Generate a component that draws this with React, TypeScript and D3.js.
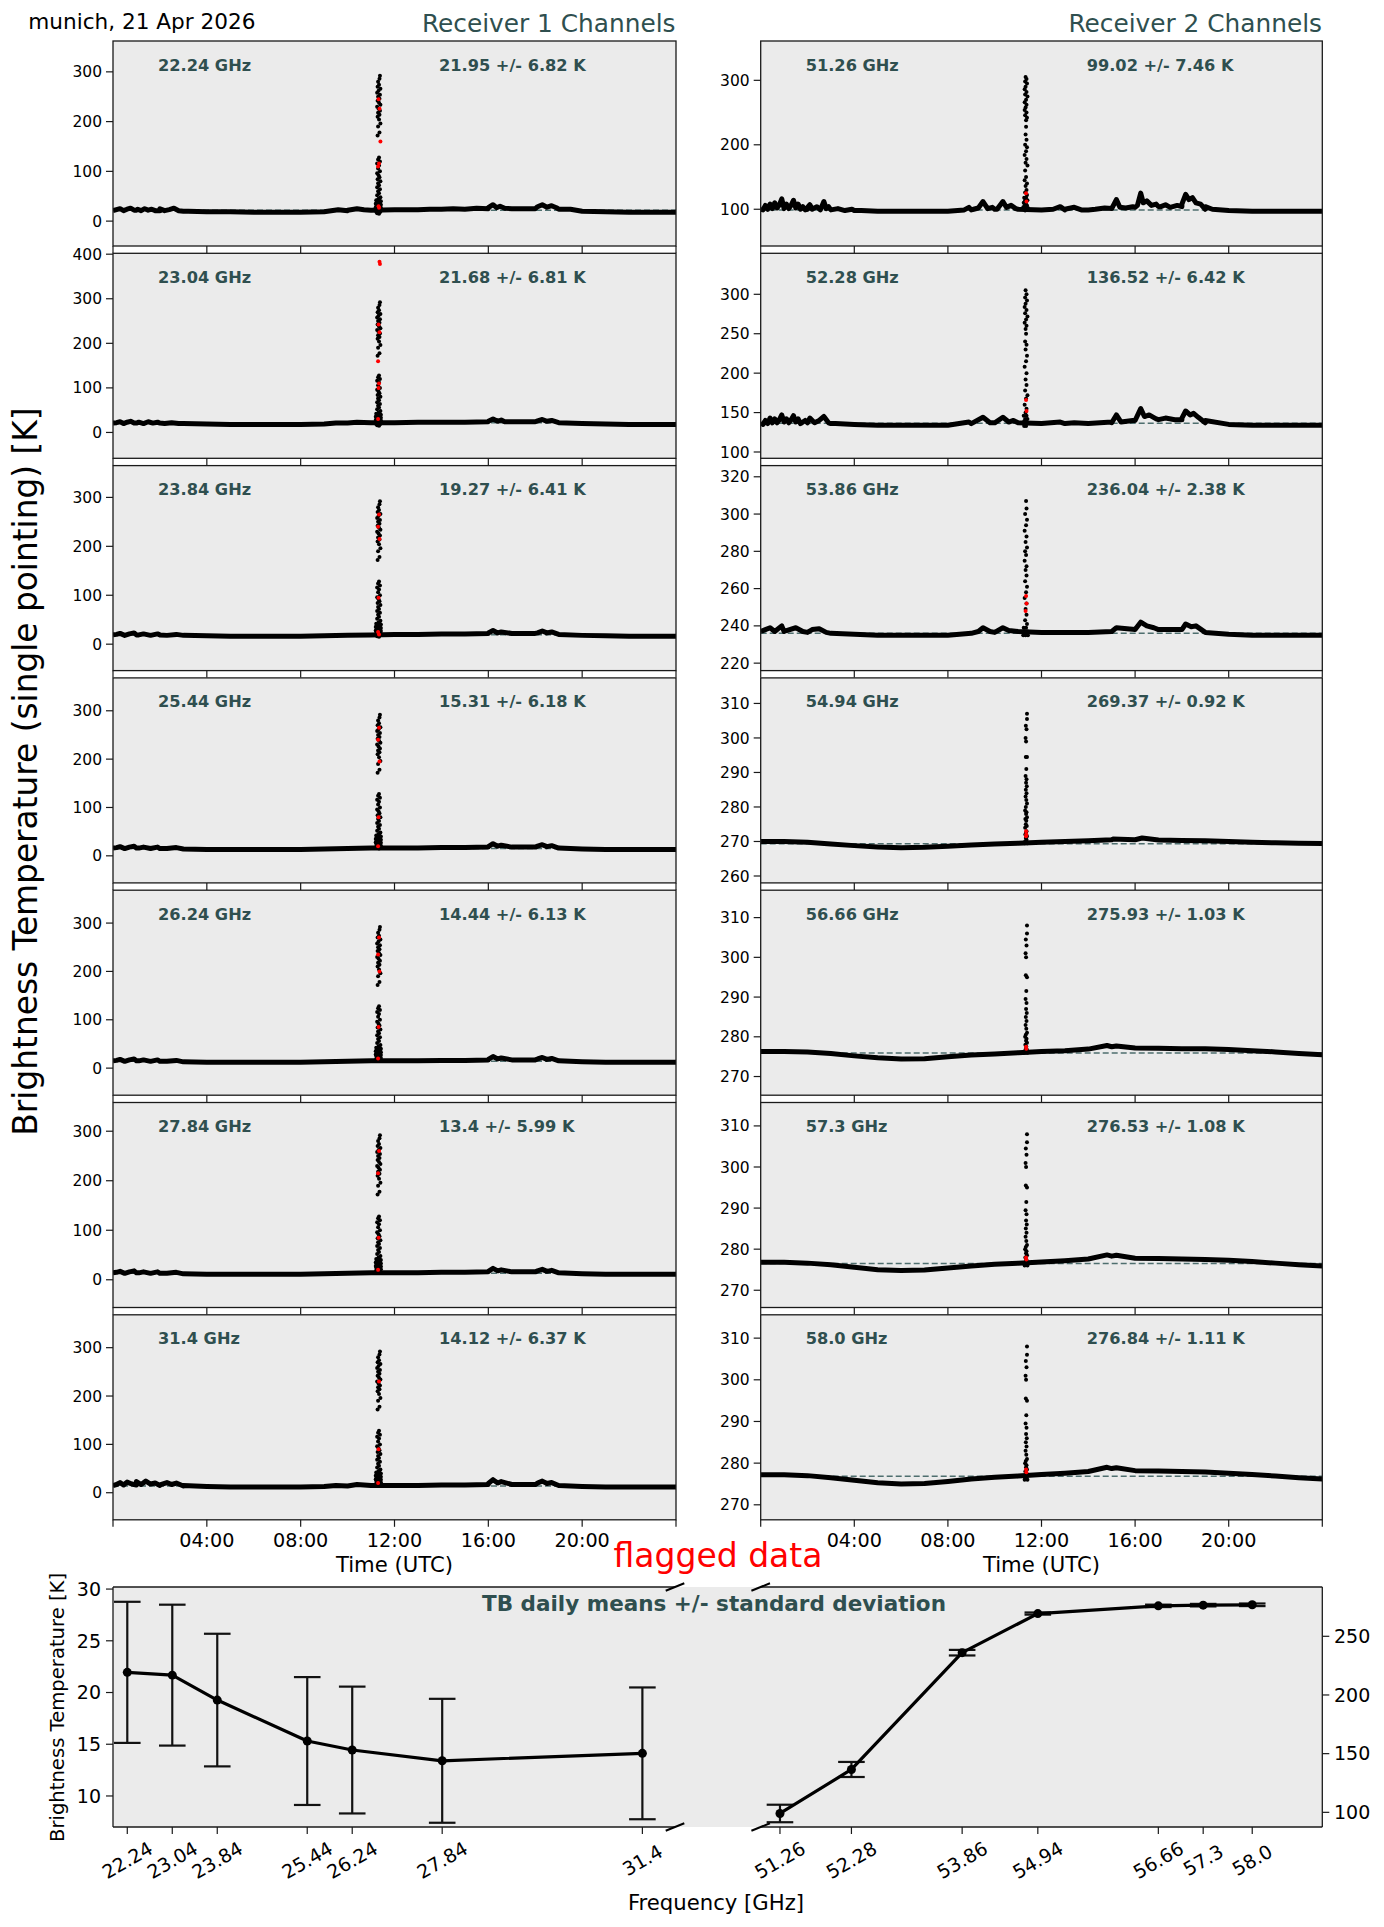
import React from 'react';
import * as d3 from 'd3';

// ---------------- DATA ----------------
const hours = [0,1,2,3,4,5,6,7,8,9,10,11,12,13,14,15,16,17,18,19,20,21,22,23,24];
const timeTicks = [0,4,8,12,16,20,24];
const timeTickLabels = ['', '04:00','08:00','12:00','16:00','20:00',''];

const rcv1Freqs = ['22.24','23.04','23.84','25.44','26.24','27.84','31.4'];
const rcv1Means = [21.95,21.68,19.27,15.31,14.44,13.4,14.12];
const rcv1Stds = [6.82,6.81,6.41,6.18,6.13,5.99,6.37];
const rcv2Freqs = ['51.26','52.28','53.86','54.94','56.66','57.3','58.0'];
const rcv2Means = [99.02,136.52,236.04,269.37,275.93,276.53,276.84];
const rcv2Stds = [7.46,6.42,2.38,0.92,1.03,1.08,1.11];

// hourly brightness temperatures (K)
const tb2224 = [21,22,21,20,19,19,18,18,18,19,21,22,23,23,24,24,25,25,25,24,20,19,18,18,18];
const tb2304 = [21,21,21,20,19,18,18,18,18,19,21,22,22,23,23,23,24,24,24,22,20,19,18,18,18];
const tb2384 = [19,19,19,18,17,16,16,16,16,17,18,19,20,20,21,21,22,22,22,20,18,17,16,16,16];
const tb2544 = [16,16,15,14,13,13,13,13,13,14,15,16,16,16,17,17,18,18,18,16,14,13,13,13,13];
const tb2624 = [15,15,14,13,12,12,12,12,12,13,14,15,15,15,16,16,17,17,17,15,13,12,12,12,12];
const tb2784 = [14,14,13,12,11,11,11,11,11,12,13,14,14,14,15,15,16,16,16,14,12,11,11,11,11];
const tb3140 = [15,16,15,14,13,12,12,12,12,13,14,15,15,15,16,16,17,17,17,15,13,12,12,12,12];
const tb5126 = [100,101,100,99,98,97,97,97,97,99,100,100,99,99,99,101,103,104,104,100,98,97,97,97,97];
const tb5228 = [137,138,137,136,135,134,134,134,134,136,137,137,136,136,136,138,140,141,141,137,135,134,134,134,134];
const tb5386 = [237,237,236.5,236,235.5,235,235,235,235,236,236.5,237,236.5,236.5,236.5,237,238,238,238,236.5,235.5,235,235,235,235];
const tb5494 = [270,270,269.8,269.3,268.8,268.4,268.2,268.3,268.6,269,269.3,269.5,269.8,270,270.2,270.5,270.5,270.4,270.3,270.2,270,269.8,269.6,269.5,269.4];
const tb5666 = [276.3,276.3,276.2,275.8,275.2,274.7,274.4,274.5,275,275.4,275.7,276,276.3,276.5,276.9,277.5,277.2,277.1,277,277,276.8,276.5,276.2,275.8,275.5];
const tb5730 = [276.8,276.8,276.6,276.2,275.6,275,274.8,274.9,275.4,275.9,276.3,276.6,276.9,277.2,277.6,278.3,277.8,277.7,277.6,277.5,277.3,277,276.6,276.2,275.9];
const tb5800 = [277.2,277.2,277,276.5,275.9,275.3,275,275.1,275.6,276.2,276.6,276.9,277.3,277.6,278,278.7,278.2,278.1,278,277.9,277.6,277.3,276.9,276.5,276.2];

// short-lived fluctuations [hour, K]
const bumps2224: [number, number][] = [[0.15,23],[0.3,25],[0.45,21],[0.6,24],[0.75,26],[0.9,22],[1.05,24],[1.2,21],[1.35,25],[1.5,22],[1.65,24],[1.8,21],[2.0,25],[2.2,21],[2.4,23],[2.6,26],[2.8,21],[3.2,20],[9.3,21],[9.6,23],[10.0,22],[10.4,25],[10.7,23],[13.5,24],[14.5,25],[15.5,26],[16.0,27],[16.2,33],[16.35,27],[16.5,30],[16.7,26],[18.1,29],[18.3,33],[18.5,28],[18.7,31],[18.9,27],[19.5,24]];
const bumps2304: [number, number][] = [[0.15,22],[0.3,24],[0.45,20],[0.6,23],[0.75,25],[0.9,21],[1.1,23],[1.3,20],[1.5,24],[1.7,21],[1.9,23],[2.2,20],[2.5,22],[2.8,20],[9.5,21],[10.4,23],[16.0,25],[16.2,30],[16.4,25],[16.55,28],[16.7,24],[18.1,26],[18.3,29],[18.5,25],[18.7,27]];
const bumps2384: [number, number][] = [[0.15,20],[0.3,22],[0.5,18],[0.7,21],[0.9,23],[1.1,19],[1.3,21],[1.6,18],[1.9,21],[2.3,18],[2.7,20],[16.0,23],[16.2,28],[16.4,23],[16.55,25],[18.1,23],[18.3,27],[18.5,23],[18.7,25]];
const bumps2544: [number, number][] = [[0.15,17],[0.3,19],[0.5,15],[0.7,18],[0.9,20],[1.1,16],[1.3,18],[1.6,15],[1.9,18],[2.3,15],[2.7,17],[16.0,19],[16.2,25],[16.4,20],[16.55,22],[18.1,20],[18.3,23],[18.5,19],[18.7,21]];
const bumps2624: [number, number][] = [[0.15,16],[0.3,18],[0.5,14],[0.7,17],[0.9,19],[1.1,15],[1.3,17],[1.6,14],[1.9,17],[2.3,14],[2.7,16],[16.0,18],[16.2,24],[16.4,19],[16.55,21],[18.1,19],[18.3,22],[18.5,18],[18.7,20]];
const bumps2784: [number, number][] = [[0.15,15],[0.3,17],[0.5,13],[0.7,16],[0.9,18],[1.1,14],[1.3,16],[1.6,13],[1.9,16],[2.3,13],[2.7,15],[16.0,17],[16.2,23],[16.4,18],[16.55,20],[18.1,18],[18.3,21],[18.5,17],[18.7,19]];
const bumps3140: [number, number][] = [[0.15,17],[0.3,21],[0.45,16],[0.6,22],[0.8,18],[1.0,23],[1.2,17],[1.4,24],[1.6,18],[1.8,20],[2.0,16],[2.3,21],[2.5,17],[2.7,20],[3.0,15],[9.5,15],[10.4,17],[16.0,19],[16.2,27],[16.4,20],[16.55,23],[18.1,20],[18.3,24],[18.5,19],[18.7,21]];
const bumps5126: [number, number][] = [[0.1,99],[0.2,106],[0.3,100],[0.4,108],[0.5,101],[0.6,110],[0.7,102],[0.8,107],[0.9,116],[1.0,103],[1.1,108],[1.2,101],[1.3,106],[1.4,114],[1.5,102],[1.6,108],[1.7,100],[1.8,104],[1.9,99],[2.0,103],[2.1,107],[2.2,100],[2.4,104],[2.55,99],[2.7,112],[2.8,101],[2.9,104],[3.0,99],[3.3,101],[3.6,98],[3.9,100],[4.3,98],[8.7,99],[8.9,103],[9.1,100],[9.3,102],[9.5,112],[9.7,101],[9.9,103],[10.1,100],[10.35,112],[10.5,103],[10.7,106],[10.9,101],[12.5,100],[12.8,104],[13.0,100],[13.4,103],[13.7,99],[14.3,100],[14.7,102],[15.0,101],[15.2,115],[15.35,103],[15.6,102],[15.9,104],[16.1,106],[16.24,125],[16.35,110],[16.5,113],[16.7,106],[16.9,108],[17.1,104],[17.3,107],[17.5,103],[17.8,106],[18.0,108],[18.16,123],[18.3,115],[18.45,118],[18.6,110],[18.8,108],[19.0,104],[19.3,100]];
const bumps5228: [number, number][] = [[0.1,135],[0.2,140],[0.3,136],[0.4,143],[0.5,137],[0.6,142],[0.7,137],[0.8,141],[0.9,147],[1.0,138],[1.1,142],[1.2,137],[1.3,141],[1.4,146],[1.5,138],[1.6,142],[1.7,136],[1.9,140],[2.1,143],[2.3,137],[2.5,140],[2.7,145],[2.9,137],[3.2,136],[8.9,138],[9.5,144],[9.8,137],[10.35,144],[10.6,138],[10.8,140],[12.8,138],[13.4,137],[15.0,137],[15.2,147],[15.4,138],[15.9,140],[16.24,155],[16.4,145],[16.6,147],[16.9,142],[17.3,143],[17.7,141],[18.0,143],[18.16,152],[18.35,147],[18.5,149],[18.7,144],[19.0,140]];
const bumps5386: [number, number][] = [[0.2,238],[0.4,239],[0.6,237],[0.9,240],[1.1,237.5],[1.5,239],[1.8,237],[2.2,238],[2.5,238.5],[2.8,236.5],[9.3,237],[9.5,239],[9.8,237],[10.35,239],[10.6,237.5],[15.2,239],[16.24,242],[16.5,240],[16.8,239],[18.16,241],[18.4,239.5],[18.6,240]];
const bumps5494: [number, number][] = [[15.05,270.7],[16.3,271]];
const bumps5666: [number, number][] = [[14.8,277.8],[15.2,277.7]];
const bumps5730: [number, number][] = [[14.8,278.6],[15.2,278.5]];
const bumps5800: [number, number][] = [[14.8,279],[15.2,278.9]];

// unflagged points of the 11:18 event [hour, K]
const spikeRcv1: [number, number][] = [[11.38,292],[11.36,286],[11.30,280],[11.34,274],[11.28,270],[11.40,266],[11.32,262],[11.26,258],[11.38,254],[11.30,250],[11.36,246],[11.28,242],[11.34,238],[11.40,234],[11.26,230],[11.32,226],[11.38,222],[11.30,218],[11.36,214],[11.28,210],[11.34,204],[11.40,196],[11.30,190],[11.36,178],[11.28,172],[11.34,128],[11.30,124],[11.38,120],[11.26,116],[11.34,112],[11.30,106],[11.38,100],[11.26,96],[11.32,92],[11.36,88],[11.28,84],[11.40,80],[11.30,76],[11.34,72],[11.26,68],[11.38,64],[11.30,60],[11.34,56],[11.26,52],[11.40,48],[11.32,45],[11.22,42],[11.28,42],[11.36,42],[11.42,40],[11.24,38],[11.32,38],[11.38,37],[11.20,35],[11.28,35],[11.34,34],[11.42,33],[11.24,31],[11.30,31],[11.38,30],[11.20,28],[11.26,28],[11.34,28],[11.42,27],[11.22,25],[11.30,25],[11.38,25],[11.26,22],[11.34,22],[11.42,21],[11.22,19],[11.30,19],[11.38,18],[11.26,16],[11.34,15]];
const spike5126: [number, number][] = [[11.32,305],[11.36,302],[11.30,298],[11.38,295],[11.32,290],[11.28,286],[11.36,282],[11.30,278],[11.40,275],[11.34,270],[11.28,266],[11.36,262],[11.32,258],[11.28,254],[11.36,250],[11.30,246],[11.38,242],[11.34,238],[11.34,228],[11.32,216],[11.36,208],[11.30,200],[11.38,196],[11.34,190],[11.28,184],[11.36,178],[11.32,172],[11.40,168],[11.30,160],[11.34,150],[11.28,145],[11.38,140],[11.32,136],[11.36,130],[11.30,126],[11.38,122],[11.26,118],[11.34,118],[11.30,114],[11.40,114],[11.24,110],[11.34,110],[11.28,106],[11.38,106],[11.22,103],[11.32,103],[11.42,102],[11.26,100],[11.36,100],[11.30,98]];
const spike5228: [number, number][] = [[11.32,305],[11.36,300],[11.30,296],[11.38,292],[11.32,288],[11.28,284],[11.36,280],[11.30,276],[11.40,272],[11.34,268],[11.28,264],[11.36,260],[11.32,256],[11.34,250],[11.30,240],[11.36,236],[11.32,230],[11.38,222],[11.34,215],[11.28,208],[11.36,200],[11.32,192],[11.36,185],[11.30,178],[11.40,172],[11.34,168],[11.28,160],[11.36,155],[11.32,150],[11.24,146],[11.36,146],[11.30,142],[11.40,142],[11.26,139],[11.34,139],[11.22,136],[11.30,136],[11.38,136],[11.26,133],[11.34,133]];
const spike5386: [number, number][] = [[11.34,307],[11.36,303],[11.30,300],[11.38,297],[11.34,294],[11.28,291],[11.36,288],[11.32,285],[11.38,282],[11.30,280],[11.34,278],[11.28,275],[11.36,272],[11.32,270],[11.36,267],[11.30,264],[11.38,261],[11.34,258],[11.28,255],[11.36,252],[11.32,249],[11.36,246],[11.30,243],[11.38,241],[11.24,239],[11.34,239],[11.28,237],[11.40,237],[11.22,235],[11.32,235],[11.42,235]];
const spike5494: [number, number][] = [[11.38,307],[11.38,305.5],[11.33,303.5],[11.36,302.5],[11.32,300],[11.34,299],[11.33,294.5],[11.38,294.5],[11.35,291],[11.32,289],[11.36,288],[11.34,287],[11.37,286],[11.33,285],[11.36,284],[11.32,283],[11.35,282],[11.38,281],[11.33,280],[11.30,279],[11.36,278.5],[11.34,278],[11.38,277],[11.31,276.5],[11.35,276],[11.33,275],[11.37,274.5],[11.30,274],[11.36,273],[11.34,272.5],[11.31,272],[11.38,271.5],[11.33,271],[11.36,270.5],[11.30,270],[11.35,270],[11.28,269.5],[11.40,269.5]];
const spikeV: [number, number][] = [[11.38,308],[11.38,306],[11.33,304.5],[11.36,303],[11.32,301],[11.34,300],[11.33,295.5],[11.38,295],[11.35,291.5],[11.32,289.5],[11.36,288.5],[11.34,287],[11.37,286],[11.33,285],[11.36,284],[11.32,283],[11.35,282],[11.38,281],[11.33,280.5],[11.30,280],[11.36,279.5],[11.34,279],[11.38,278.5],[11.31,278],[11.35,277.5],[11.33,277],[11.37,276.8],[11.30,276.5],[11.36,276.2],[11.28,276],[11.40,276]];

// flagged points [hour, K]
const red2224: [number, number][] = [[11.32,245],[11.36,226],[11.40,160],[11.34,116],[11.30,110],[11.32,30],[11.34,27]];
const red2304: [number, number][] = [[11.36,383],[11.38,378],[11.32,242],[11.36,225],[11.30,160],[11.34,110],[11.32,100],[11.30,30]];
const red2384: [number, number][] = [[11.34,265],[11.30,240],[11.36,215],[11.32,95],[11.30,25],[11.34,20]];
const red2544: [number, number][] = [[11.34,265],[11.30,240],[11.36,195],[11.32,80],[11.30,20]];
const red2624: [number, number][] = [[11.34,270],[11.30,235],[11.36,200],[11.32,85],[11.30,20]];
const red2784: [number, number][] = [[11.34,260],[11.30,215],[11.32,85],[11.30,20]];
const red3140: [number, number][] = [[11.34,230],[11.32,90],[11.30,20]];
const red5126: [number, number][] = [[11.34,125],[11.36,112]];
const red5228: [number, number][] = [[11.34,166],[11.36,152]];
const red5386: [number, number][] = [[11.34,256],[11.36,252],[11.32,248]];
const red5494: [number, number][] = [[11.34,273],[11.35,272],[11.34,271.5]];
const red5666: [number, number][] = [[11.34,277.5],[11.35,277]];
const red5730: [number, number][] = [[11.34,278],[11.35,277.5]];
const red5800: [number, number][] = [[11.34,278.5],[11.35,277.8]];

// y-axis limits and ticks
const rcv1YLims: [number, number][] = [[-50,362],[-58,402],[-54,365],[-56,368],[-56,368],[-56,358],[-56,368]];
const rcv1YTicks = [[0,100,200,300],[0,100,200,300,400],[0,100,200,300],[0,100,200,300],[0,100,200,300],[0,100,200,300],[0,100,200,300]];
const rcv2YLims: [number, number][] = [[43,361],[92,352],[216,326],[258,317.4],[265.3,316.9],[265.8,315.7],[266.4,315.6]];
const rcv2YTicks = [[100,200,300],[100,150,200,250,300],[220,240,260,280,300,320],[260,270,280,290,300,310],[270,280,290,300,310],[270,280,290,300,310],[270,280,290,300,310]];

// summary panel axes
const sumLeftYTicks = [10,15,20,25,30];
const sumRightYTicks = [100,150,200,250];
const sumLeftXLim: [number, number] = [21.986, 31.98];
const sumRightXLim: [number, number] = [50.985, 59.0];
const sumLeftYLim: [number, number] = [7.0, 30.2];
const sumRightYLim: [number, number] = [87.5, 292];

// ---------------- LAYOUT ----------------
const W = 1384, H = 1927;
const FONT = "'DejaVu Sans', Verdana, sans-serif";
const SLATE = '#2f4f4f';
const colX: [number, number][] = [[113, 676], [760.7, 1322.3]];
const rowTop = (i: number) => 41 + i * 212.3;
const PH = 205;
const sumTop = 1587, sumBot = 1827;

const rcv1 = rcv1Freqs.map((f, i) => ({
  freq: f, mean: rcv1Means[i], std: rcv1Stds[i],
  tb: [tb2224,tb2304,tb2384,tb2544,tb2624,tb2784,tb3140][i],
  bumps: [bumps2224,bumps2304,bumps2384,bumps2544,bumps2624,bumps2784,bumps3140][i],
  spike: spikeRcv1,
  red: [red2224,red2304,red2384,red2544,red2624,red2784,red3140][i],
  ylim: rcv1YLims[i], yticks: rcv1YTicks[i],
}));
const rcv2 = rcv2Freqs.map((f, i) => ({
  freq: f, mean: rcv2Means[i], std: rcv2Stds[i],
  tb: [tb5126,tb5228,tb5386,tb5494,tb5666,tb5730,tb5800][i],
  bumps: [bumps5126,bumps5228,bumps5386,bumps5494,bumps5666,bumps5730,bumps5800][i],
  spike: [spike5126,spike5228,spike5386,spike5494,spikeV,spikeV,spikeV][i],
  red: [red5126,red5228,red5386,red5494,red5666,red5730,red5800][i],
  ylim: rcv2YLims[i], yticks: rcv2YTicks[i],
}));

type Ch = typeof rcv1[number];

function Panel({ ch, col, row, id }: { ch: Ch; col: number; row: number; id: string }) {
  const [x0, x1] = colX[col];
  const top = rowTop(row), bot = top + PH;
  const x = d3.scaleLinear().domain([0, 24]).range([x0, x1]);
  const y = d3.scaleLinear().domain(ch.ylim).range([bot, top]);
  const pts: [number, number][] = hours.map((h, i) => [h, ch.tb[i]] as [number, number])
    .concat(ch.bumps).sort((a, b) => a[0] - b[0]);
  const line = d3.line<[number, number]>().x(d => x(d[0])).y(d => y(d[1]));
  const isBottom = row === 6;
  return (
    <g>
      <defs>
        <clipPath id={id}><rect x={x0} y={top} width={x1 - x0} height={PH} /></clipPath>
      </defs>
      <rect x={x0} y={top} width={x1 - x0} height={PH} fill="#ebebeb" />
      <g clipPath={`url(#${id})`}>
        <line x1={x0} x2={x1} y1={y(ch.mean)} y2={y(ch.mean)} stroke="#4f6f6f" strokeWidth={1.5} strokeDasharray="6,3" />
        <path d={line(pts) || ''} fill="none" stroke="#000" strokeWidth={5} strokeLinejoin="round" />
        {ch.spike.map((d, i) => <circle key={'s' + i} cx={x(d[0])} cy={y(d[1])} r={2} fill="#000" />)}
        {ch.red.map((d, i) => <circle key={'r' + i} cx={x(d[0])} cy={y(d[1])} r={2} fill="#ff0000" />)}
      </g>
      <rect x={x0} y={top} width={x1 - x0} height={PH} fill="none" stroke="#1a1a1a" strokeWidth={1.3} />
      {ch.yticks.map(t => (
        <g key={'yt' + t}>
          <line x1={x0 - 7} x2={x0} y1={y(t)} y2={y(t)} stroke="#1a1a1a" strokeWidth={1.2} />
          <text x={x0 - 11} y={y(t)} dy="0.36em" textAnchor="end" fontSize={15.5} fontFamily={FONT}>{t}</text>
        </g>
      ))}
      {timeTicks.map((t, i) => (
        <g key={'xt' + t}>
          <line x1={x(t)} x2={x(t)} y1={bot} y2={bot + 7} stroke="#1a1a1a" strokeWidth={1.2} />
          {isBottom && timeTickLabels[i] && (
            <text x={x(t)} y={bot + 27} textAnchor="middle" fontSize={19.2} fontFamily={FONT}>{timeTickLabels[i]}</text>
          )}
        </g>
      ))}
      <text x={x0 + 45} y={top + 29.5} fontSize={16.2} fontWeight="bold" fill={SLATE} fontFamily={FONT}>{ch.freq} GHz</text>
      <text x={x0 + 326} y={top + 29.5} fontSize={16.2} fontWeight="bold" fill={SLATE} fontFamily={FONT}>{`${ch.mean} +/- ${ch.std} K`}</text>
    </g>
  );
}

function Summary() {
  const xl = d3.scaleLinear().domain(sumLeftXLim).range([113, 675]);
  const xr = d3.scaleLinear().domain(sumRightXLim).range([760.7, 1322.3]);
  const yl = d3.scaleLinear().domain(sumLeftYLim).range([sumBot, sumTop]);
  const yr = d3.scaleLinear().domain(sumRightYLim).range([sumBot, sumTop]);
  const lf = rcv1Freqs.map(Number), rf = rcv2Freqs.map(Number);
  const lineL = d3.line<number>().x((d, i) => xl(lf[i])).y(d => yl(d));
  const lineR = d3.line<number>().x((d, i) => xr(rf[i])).y(d => yr(d));
  const breakMark = (cx: number, cy: number, k: string) => (
    <line key={k} x1={cx - 9.3} y1={cy + 3.8} x2={cx + 9.3} y2={cy - 3.8} stroke="#000" strokeWidth={2} />
  );
  const errs = (freqs: number[], means: number[], stds: number[], xs: any, ys: any, p: string) =>
    freqs.map((f, i) => {
      const cx = xs(f);
      return (
        <g key={p + i}>
          <line x1={cx} x2={cx} y1={ys(means[i] - stds[i])} y2={ys(means[i] + stds[i])} stroke="#111" strokeWidth={2.2} />
          <line x1={cx - 13.3} x2={cx + 13.3} y1={ys(means[i] - stds[i])} y2={ys(means[i] - stds[i])} stroke="#111" strokeWidth={2.2} />
          <line x1={cx - 13.3} x2={cx + 13.3} y1={ys(means[i] + stds[i])} y2={ys(means[i] + stds[i])} stroke="#111" strokeWidth={2.2} />
        </g>
      );
    });
  return (
    <g>
      <rect x={113} y={sumTop} width={1322.3 - 113} height={sumBot - sumTop} fill="#ebebeb" />
      <line x1={113} x2={675} y1={sumTop} y2={sumTop} stroke="#1a1a1a" strokeWidth={1.3} />
      <line x1={113} x2={675} y1={sumBot} y2={sumBot} stroke="#1a1a1a" strokeWidth={1.3} />
      <line x1={113} x2={113} y1={sumTop} y2={sumBot} stroke="#1a1a1a" strokeWidth={1.3} />
      <line x1={760.7} x2={1322.3} y1={sumTop} y2={sumTop} stroke="#1a1a1a" strokeWidth={1.3} />
      <line x1={760.7} x2={1322.3} y1={sumBot} y2={sumBot} stroke="#1a1a1a" strokeWidth={1.3} />
      <line x1={1322.3} x2={1322.3} y1={sumTop} y2={sumBot} stroke="#1a1a1a" strokeWidth={1.3} />
      {breakMark(675, sumTop, 'b1')}{breakMark(675, sumBot, 'b2')}
      {breakMark(760.7, sumTop, 'b3')}{breakMark(760.7, sumBot, 'b4')}
      {errs(lf, rcv1Means, rcv1Stds, xl, yl, 'el')}
      {errs(rf, rcv2Means, rcv2Stds, xr, yr, 'er')}
      <path d={lineL(rcv1Means) || ''} fill="none" stroke="#000" strokeWidth={3.2} strokeLinejoin="round" />
      <path d={lineR(rcv2Means) || ''} fill="none" stroke="#000" strokeWidth={3.2} strokeLinejoin="round" />
      {rcv1Means.map((m, i) => <circle key={'ml' + i} cx={xl(lf[i])} cy={yl(m)} r={4.5} fill="#000" />)}
      {rcv2Means.map((m, i) => <circle key={'mr' + i} cx={xr(rf[i])} cy={yr(m)} r={4.5} fill="#000" />)}
      {sumLeftYTicks.map(t => (
        <g key={'lyt' + t}>
          <line x1={106} x2={113} y1={yl(t)} y2={yl(t)} stroke="#1a1a1a" strokeWidth={1.2} />
          <text x={101} y={yl(t)} dy="0.36em" textAnchor="end" fontSize={19} fontFamily={FONT}>{t}</text>
        </g>
      ))}
      {sumRightYTicks.map(t => (
        <g key={'ryt' + t}>
          <line x1={1322.3} x2={1329.3} y1={yr(t)} y2={yr(t)} stroke="#1a1a1a" strokeWidth={1.2} />
          <text x={1334} y={yr(t)} dy="0.36em" textAnchor="start" fontSize={19} fontFamily={FONT}>{t}</text>
        </g>
      ))}
      {rcv1Freqs.map((f, i) => (
        <g key={'lxt' + i}>
          <line x1={xl(lf[i])} x2={xl(lf[i])} y1={sumBot} y2={sumBot + 7} stroke="#1a1a1a" strokeWidth={1.2} />
          <text transform={`translate(${xl(lf[i])},1860) rotate(-30)`} textAnchor="middle" dy="0.36em" fontSize={19} fontFamily={FONT}>{f}</text>
        </g>
      ))}
      {rcv2Freqs.map((f, i) => (
        <g key={'rxt' + i}>
          <line x1={xr(rf[i])} x2={xr(rf[i])} y1={sumBot} y2={sumBot + 7} stroke="#1a1a1a" strokeWidth={1.2} />
          <text transform={`translate(${xr(rf[i])},1860) rotate(-30)`} textAnchor="middle" dy="0.36em" fontSize={19} fontFamily={FONT}>{f}</text>
        </g>
      ))}
      <text x={714} y={1611} textAnchor="middle" fontSize={21.5} fontWeight="bold" fill={SLATE} fontFamily={FONT}>TB daily means +/- standard deviation</text>
      <text x={718} y={1567} textAnchor="middle" fontSize={33} fill="#ff0000" fontFamily={FONT}>flagged data</text>
      <text x={716} y={1910} textAnchor="middle" fontSize={21.2} fontFamily={FONT}>Frequency [GHz]</text>
      <text transform="translate(64,1707.5) rotate(-90)" textAnchor="middle" fontSize={19.6} fontFamily={FONT}>Brightness Temperature [K]</text>
    </g>
  );
}

export default function App() {
  React.useEffect(() => { document.body.style.margin = '0'; }, []);
  return (
    <svg width={W} height={H} viewBox={`0 0 ${W} ${H}`} style={{ position: 'absolute', left: 0, top: 0, background: '#fff' }} fontFamily={FONT}>
      <rect x={0} y={0} width={W} height={H} fill="#fff" />
      <text x={28.3} y={28.5} fontSize={21.6} fontFamily={FONT}>munich, 21 Apr 2026</text>
      <text x={675.5} y={31.5} textAnchor="end" fontSize={24.8} fill={SLATE} fontFamily={FONT}>Receiver 1 Channels</text>
      <text x={1322} y={31.5} textAnchor="end" fontSize={24.8} fill={SLATE} fontFamily={FONT}>Receiver 2 Channels</text>
      {rcv1.map((ch, i) => <Panel key={'l' + i} ch={ch} col={0} row={i} id={`clipL${i}`} />)}
      {rcv2.map((ch, i) => <Panel key={'r' + i} ch={ch} col={1} row={i} id={`clipR${i}`} />)}
      <text x={394.5} y={1572} textAnchor="middle" fontSize={21.2} fontFamily={FONT}>Time (UTC)</text>
      <text x={1041.5} y={1572} textAnchor="middle" fontSize={21.2} fontFamily={FONT}>Time (UTC)</text>
      <text transform="translate(37,771.5) rotate(-90)" textAnchor="middle" fontSize={32.8} fontFamily={FONT}>Brightness Temperature (single pointing) [K]</text>
      <Summary />
    </svg>
  );
}
